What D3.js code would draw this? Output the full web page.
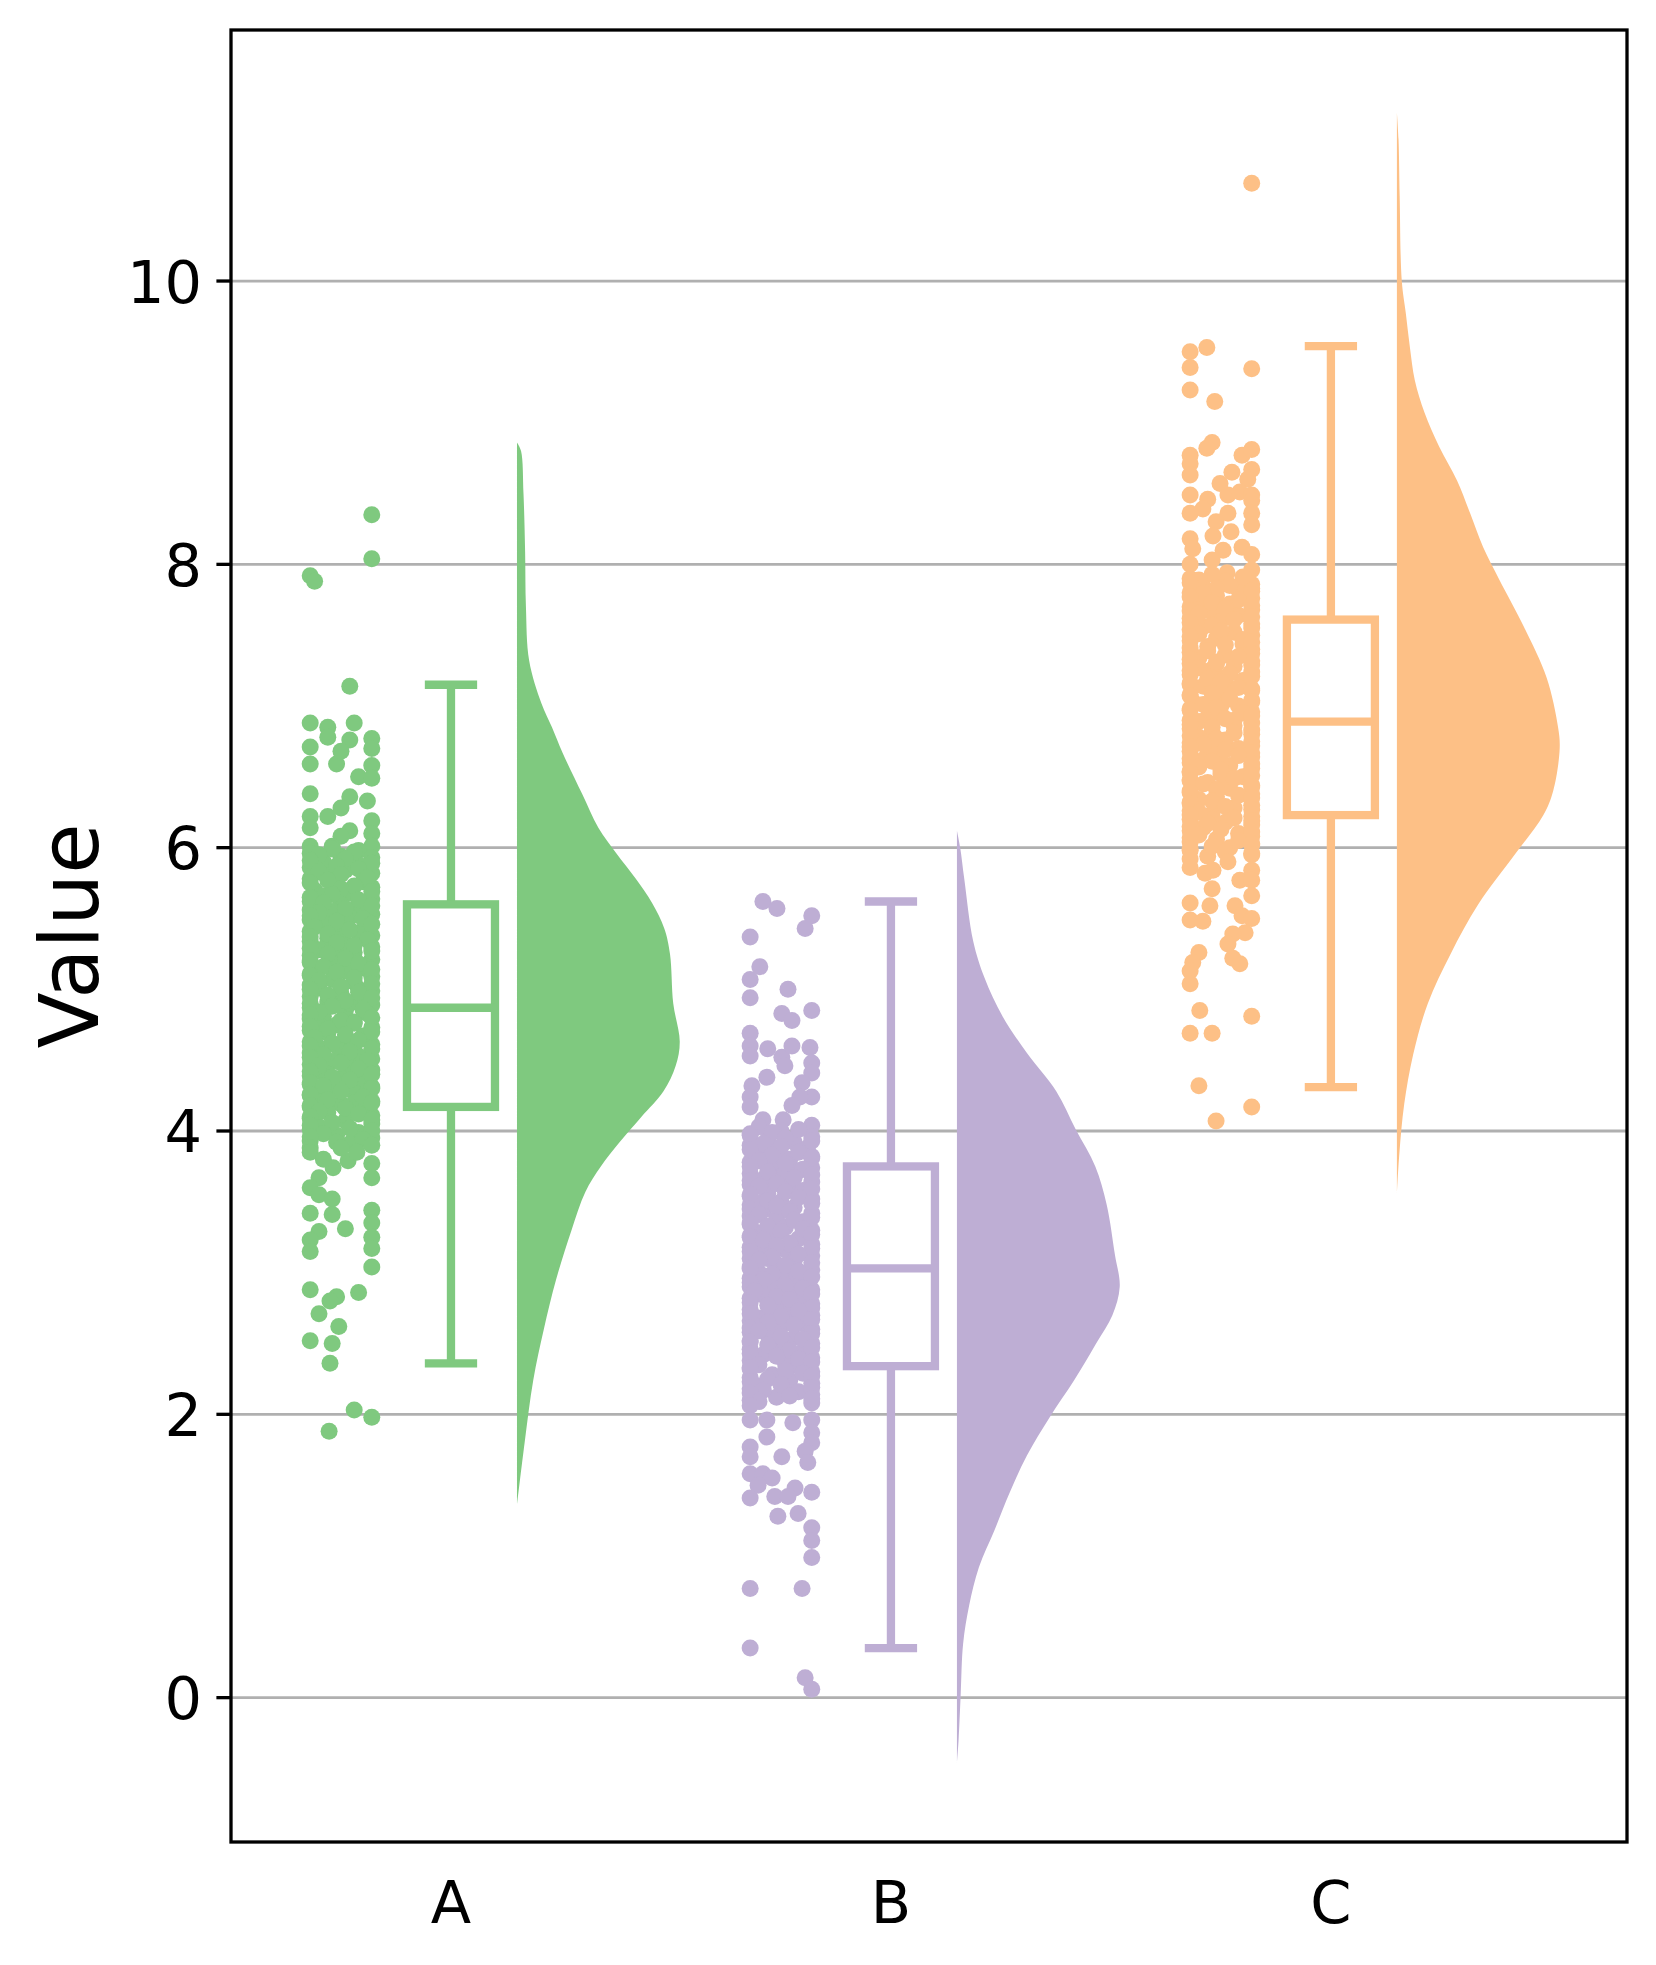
<!DOCTYPE html>
<html><head><meta charset="utf-8">
<script src="https://cdn.jsdelivr.net/npm/d3@7"></script>
<style>body{margin:0;background:#fff}</style>
</head><body><svg id="c" width="1656" height="1965"></svg>
<script>
const categories = ["A","B","C"];
const colors = ["#7fc97f","#beaed4","#fdc086"];
const yTicks = [0,2,4,6,8,10];
const yLabel = "Value";

// box statistics
const whiskerLow  = [2.36, 0.35, 4.31];
const q1          = [4.17, 2.34, 6.23];
const medians     = [4.87, 3.03, 6.89];
const q3          = [5.60, 3.75, 7.61];
const whiskerHigh = [7.15, 5.62, 9.54];

// violin density profiles [value, relative density]
const violinA = [[8.86,0],[8.8,.025],[8.5,.04],[8.09,.05],[7.7,.055],[7.32,.075],[7.02,.15],[6.85,.215],[6.67,.28],[6.38,.40],[6.14,.50],[5.96,.61],[5.78,.73],[5.61,.83],[5.43,.905],[5.25,.94],[4.90,.96],[4.63,1.0],[4.46,.975],[4.28,.90],[4.10,.765],[3.92,.63],[3.75,.515],[3.57,.42],[3.30,.335],[2.95,.24],[2.60,.165],[2.24,.10],[1.80,.047],[1.36,0]];
const violinB = [[6.12,0],[6.0,.02],[5.78,.045],[5.34,.10],[5.08,.17],[4.81,.28],[4.55,.43],[4.28,.61],[4.01,.73],[3.75,.85],[3.48,.92],[3.13,.97],[2.90,1.0],[2.70,.955],[2.50,.855],[2.24,.72],[1.98,.57],[1.71,.43],[1.45,.325],[1.18,.23],[0.92,.135],[0.65,.075],[0.38,.038],[0.02,.023],[-0.3,.01],[-0.46,0]];
const violinC = [[11.19,0],[11.0,.01],[10.6,.017],[10.0,.03],[9.77,.055],[9.53,.08],[9.30,.11],[9.07,.17],[8.83,.26],[8.59,.37],[8.36,.45],[8.12,.53],[7.89,.63],[7.56,.78],[7.20,.92],[6.85,.99],[6.70,1.0],[6.40,.96],[6.23,.90],[5.96,.73],[5.60,.50],[5.25,.33],[4.90,.19],[4.54,.10],[4.19,.045],[3.84,.015],[3.56,0]];

// points [value, horizontal jitter offset from category]
const pointsA = [
[8.35,-.18],[8.04,-.18],[7.92,-.32],[7.88,-.31],[7.14,-.23],[6.88,-.32],[6.85,-.28],[6.88,-.22],[6.77,-.18],[6.71,-.32],[6.78,-.28],[6.76,-.23],[6.70,-.18],[6.59,-.32],[6.59,-.26],[6.68,-.25],[6.58,-.18],[6.50,-.21],[6.49,-.18],[6.38,-.32],[6.36,-.23],[6.33,-.19],[6.22,-.28],[6.22,-.32],[6.28,-.25],[6.19,-.18],[6.14,-.32],[6.12,-.23],[6.10,-.18],[6.08,-.25],[6.01,-.32],[6.01,-.27],[6.01,-.18],[5.98,-.21],
[5.96,-.32],[5.94,-.25],[5.93,-.18],[5.90,-.29],[5.88,-.21],[5.86,-.32],[5.84,-.24],[5.82,-.18],[5.80,-.28],[5.78,-.32],[5.76,-.20],[5.74,-.26],
[5.72,-.18],[5.70,-.31],[5.68,-.23],[5.66,-.29],[5.64,-.18],[5.62,-.32],[5.60,-.25],[5.58,-.21],[5.56,-.32],[5.55,-.27],[5.53,-.18],[5.51,-.23],
[5.49,-.32],[5.47,-.29],[5.45,-.19],[5.43,-.25],[5.41,-.32],[5.40,-.21],[5.38,-.18],[5.36,-.28],[5.34,-.32],[5.32,-.24],[5.30,-.18],[5.28,-.30],
[5.26,-.22],[5.24,-.32],[5.23,-.26],[5.21,-.18],[5.19,-.32],[5.17,-.28],[5.15,-.20],[5.13,-.24],[5.11,-.32],[5.09,-.18],[5.07,-.27],[5.05,-.22],
[5.03,-.32],[5.01,-.30],[4.99,-.18],[4.97,-.25],[4.95,-.32],[4.93,-.21],[4.91,-.28],[4.89,-.18],[4.87,-.32],[4.85,-.24],[4.83,-.19],[4.81,-.29],
[4.79,-.32],[4.77,-.22],[4.75,-.26],[4.73,-.18],[4.71,-.32],[4.69,-.28],[4.67,-.20],[4.65,-.24],[4.63,-.32],[4.61,-.18],[4.59,-.30],[4.57,-.25],
[4.55,-.32],[4.53,-.21],[4.51,-.18],[4.49,-.27],[4.47,-.32],[4.45,-.23],[4.43,-.18],[4.41,-.29],[4.39,-.32],[4.37,-.25],[4.35,-.20],[4.33,-.32],
[4.31,-.18],[4.29,-.27],[4.27,-.22],[4.25,-.32],[4.23,-.30],[4.21,-.18],[4.19,-.25],[4.17,-.32],[4.15,-.21],[4.13,-.28],[4.11,-.18],[4.09,-.32],
[4.07,-.24],[4.05,-.18],[4.03,-.30],[4.01,-.32],[3.99,-.21],[3.97,-.26],[3.95,-.18],[3.93,-.32],[3.91,-.23],
[5.20,-.27],[4.90,-.23],[4.60,-.26],[4.40,-.28],[5.00,-.21],[4.75,-.30],[5.50,-.24],[4.20,-.22],[5.35,-.25],[4.50,-.24],
[5.99,-.27],[5.97,-.22],[5.95,-.30],[5.92,-.24],[5.91,-.32],[5.89,-.18],[5.87,-.26],[5.85,-.21],[5.83,-.30],[5.81,-.25],[5.79,-.19],[5.77,-.28],
[5.75,-.32],[5.73,-.22],[5.71,-.25],[5.69,-.18],[5.67,-.27],[5.65,-.32],[5.63,-.21],[5.61,-.29],[5.59,-.18],[5.57,-.24],[5.54,-.30],[5.52,-.32],
[5.50,-.20],[5.48,-.26],[5.46,-.18],[5.44,-.31],[5.42,-.23],[5.39,-.28],[5.37,-.32],[5.35,-.19],[5.33,-.26],[5.31,-.22],[5.29,-.32],[5.27,-.18],
[5.25,-.28],[5.22,-.24],[5.20,-.32],[5.18,-.21],[5.16,-.29],[5.14,-.18],[5.12,-.26],[5.10,-.32],[5.08,-.22],[5.06,-.30],[5.04,-.18],[5.02,-.25],
[5.00,-.32],[4.98,-.21],[4.96,-.28],[4.94,-.18],[4.92,-.24],[4.90,-.32],[4.88,-.27],[4.86,-.20],[4.84,-.30],[4.82,-.32],[4.80,-.18],[4.78,-.25],
[4.76,-.22],[4.74,-.32],[4.72,-.28],[4.70,-.18],[4.68,-.24],[4.66,-.31],[4.64,-.21],[4.62,-.27],[4.60,-.32],[4.58,-.18],[4.56,-.23],[4.54,-.29],
[4.52,-.32],[4.50,-.19],[4.48,-.25],[4.46,-.30],[4.44,-.21],[4.42,-.32],[4.40,-.18],[4.38,-.27],[4.36,-.23],[4.34,-.32],[4.32,-.29],[4.30,-.18],
[4.28,-.25],[4.26,-.32],[4.24,-.20],[4.22,-.28],[4.20,-.18],[4.18,-.32],[4.16,-.24],[4.14,-.30],[4.12,-.21],[4.10,-.32],[4.08,-.18],[4.06,-.27],
[4.04,-.32],[4.02,-.23],[4.00,-.18],[3.98,-.29],[3.96,-.32],[3.94,-.20],[3.92,-.26],[3.90,-.18],[3.88,-.32],
[3.85,-.32],[3.67,-.30],[3.60,-.32],[3.55,-.30],[3.52,-.27],[3.42,-.32],[3.41,-.27],[3.31,-.24],[3.29,-.30],[3.23,-.32],[3.15,-.32],[3.44,-.18],[3.35,-.18],[3.25,-.18],[3.17,-.18],[3.04,-.18],[2.86,-.21],[2.88,-.32],[2.83,-.26],[2.80,-.275],[2.71,-.30],[2.62,-.255],[2.52,-.32],[2.50,-.27],[2.36,-.275],[2.03,-.22],[1.98,-.18],[1.88,-.277],[3.77,-.18],[3.67,-.18],[3.79,-.234],[3.74,-.268],[3.85,-.214],[3.88,-.25],[3.80,-.29]
];
const pointsB = [
[5.62,-.291],[5.57,-.259],[5.52,-.18],[5.43,-.195],[5.37,-.32],[5.16,-.298],[5.07,-.32],[5.00,-.234],[4.94,-.32],[4.83,-.248],[4.78,-.225],[4.85,-.18],[4.69,-.32],[4.60,-.32],[4.53,-.32],[4.58,-.28],[4.52,-.248],[4.60,-.225],[4.59,-.184],[4.48,-.18],[4.46,-.241],[4.38,-.282],[4.32,-.316],[4.41,-.18],[4.34,-.202],[4.24,-.18],[4.24,-.207],[4.18,-.225],[4.24,-.32],[4.17,-.32],[4.08,-.291],[4.08,-.245],[4.04,-.18],
[4.00,-.25],[3.98,-.32],[3.96,-.18],[3.94,-.28],[3.92,-.22],[3.90,-.32],[3.88,-.19],[3.86,-.26],[3.84,-.30],[3.82,-.18],[3.80,-.23],[3.78,-.32],
[3.76,-.27],[3.74,-.18],[3.72,-.21],[3.70,-.32],[3.68,-.25],[3.66,-.29],[3.64,-.18],[3.62,-.32],[3.60,-.23],[3.58,-.20],[3.56,-.28],[3.54,-.32],
[3.52,-.18],[3.50,-.25],[3.48,-.32],[3.46,-.22],[3.44,-.29],[3.42,-.18],[3.40,-.32],[3.38,-.26],[3.36,-.20],[3.34,-.32],[3.32,-.24],[3.30,-.18],
[3.28,-.30],[3.26,-.32],[3.24,-.21],[3.22,-.27],[3.20,-.18],[3.18,-.32],[3.16,-.24],[3.14,-.29],[3.12,-.18],[3.10,-.32],[3.08,-.22],[3.06,-.26],
[3.04,-.32],[3.02,-.18],[3.00,-.30],[2.98,-.23],[2.96,-.32],[2.94,-.19],[2.92,-.27],[2.90,-.32],[2.88,-.18],[2.86,-.24],[2.84,-.29],[2.82,-.32],
[2.80,-.21],[2.78,-.18],[2.76,-.26],[2.74,-.32],[2.72,-.23],[2.70,-.18],[2.68,-.30],[2.66,-.32],[2.64,-.20],[2.62,-.25],[2.60,-.18],[2.58,-.32],
[2.56,-.28],[2.54,-.22],[2.52,-.32],[2.50,-.18],[2.48,-.26],[2.46,-.32],[2.44,-.20],[2.42,-.29],[2.40,-.18],[2.38,-.32],[2.36,-.24],[2.34,-.21],
[2.32,-.32],[2.30,-.18],[2.28,-.27],[2.26,-.32],[2.24,-.23],[2.22,-.18],[2.20,-.30],[2.18,-.32],[2.16,-.21],[2.14,-.18],[2.12,-.26],[2.10,-.32],[2.08,-.18],
[3.30,-.27],[3.00,-.25],[2.70,-.28],[3.50,-.29],[2.90,-.21],[3.20,-.23],[2.50,-.24],[3.70,-.24],[2.60,-.27],[3.10,-.28],
[4.03,-.30],[4.01,-.21],[3.99,-.27],[3.97,-.32],[3.95,-.24],[3.93,-.18],[3.91,-.29],[3.89,-.25],[3.87,-.32],[3.85,-.21],[3.83,-.27],[3.81,-.18],
[3.79,-.30],[3.77,-.24],[3.75,-.32],[3.73,-.20],[3.71,-.28],[3.69,-.18],[3.67,-.22],[3.65,-.32],[3.63,-.26],[3.61,-.30],[3.59,-.18],[3.57,-.24],
[3.55,-.32],[3.53,-.21],[3.51,-.28],[3.49,-.18],[3.47,-.26],[3.45,-.32],[3.43,-.23],[3.41,-.30],[3.39,-.18],[3.37,-.22],[3.35,-.32],[3.33,-.28],
[3.31,-.20],[3.29,-.25],[3.27,-.18],[3.25,-.32],[3.23,-.29],[3.21,-.23],[3.19,-.26],[3.17,-.18],[3.15,-.32],[3.13,-.21],[3.11,-.27],[3.09,-.30],
[3.07,-.18],[3.05,-.24],[3.03,-.32],[3.01,-.21],[2.99,-.27],[2.97,-.18],[2.95,-.29],[2.93,-.32],[2.91,-.24],[2.89,-.20],[2.87,-.31],[2.85,-.18],
[2.83,-.26],[2.81,-.23],[2.79,-.32],[2.77,-.28],[2.75,-.18],[2.73,-.21],[2.71,-.32],[2.69,-.25],[2.67,-.18],[2.65,-.28],[2.63,-.22],[2.61,-.32],
[2.59,-.30],[2.57,-.18],[2.55,-.25],[2.53,-.20],[2.51,-.32],[2.49,-.28],[2.47,-.18],[2.45,-.23],[2.43,-.32],[2.41,-.26],[2.39,-.21],[2.37,-.18],
[2.35,-.30],[2.33,-.32],[2.31,-.24],[2.29,-.20],[2.27,-.18],[2.25,-.28],[2.23,-.32],[2.21,-.25],[2.19,-.18],[2.17,-.29],[2.15,-.32],[2.13,-.23],[2.11,-.18],[2.09,-.30],[2.06,-.32],
[1.96,-.32],[1.96,-.282],[1.84,-.282],[1.77,-.32],[1.70,-.32],[1.94,-.223],[1.96,-.18],[1.87,-.18],[1.80,-.18],[1.74,-.195],[1.66,-.189],[1.70,-.248],[1.58,-.32],[1.58,-.291],[1.55,-.27],[1.50,-.302],[1.41,-.32],[1.42,-.264],[1.48,-.218],[1.42,-.234],[1.28,-.257],[1.30,-.211],[1.45,-.18],[1.20,-.18],[1.11,-.18],[0.99,-.18],[0.77,-.32],[0.77,-.202],[0.35,-.32],[0.14,-.195],[0.06,-.18]
];
const pointsC = [
[10.69,-.18],[9.50,-.32],[9.53,-.282],[9.39,-.32],[9.38,-.18],[9.23,-.32],[9.15,-.264],[8.86,-.27],[8.82,-.282],[8.77,-.32],[8.71,-.32],[8.63,-.32],[8.77,-.202],[8.81,-.18],[8.67,-.18],[8.60,-.189],[8.65,-.225],[8.57,-.252],[8.49,-.234],[8.51,-.207],[8.49,-.18],[8.45,-.18],[8.49,-.32],[8.46,-.28],[8.39,-.291],[8.36,-.32],[8.36,-.234],[8.30,-.261],[8.36,-.18],[8.28,-.18],[8.18,-.32],[8.11,-.314],[8.23,-.227],[8.20,-.268],[8.12,-.202],[8.10,-.245],[8.07,-.18],[8.00,-.32],[8.03,-.27],[7.94,-.236],[7.96,-.18],[7.83,-.18],
[7.90,-.32],[7.88,-.24],[7.86,-.18],[7.84,-.29],[7.82,-.21],[7.80,-.32],[7.78,-.26],[7.76,-.18],[7.74,-.30],[7.72,-.23],[7.70,-.32],[7.68,-.18],
[7.66,-.27],[7.64,-.21],[7.62,-.32],[7.60,-.25],[7.58,-.18],[7.56,-.29],[7.54,-.32],[7.52,-.22],[7.50,-.18],[7.48,-.26],[7.46,-.32],[7.44,-.20],
[7.42,-.28],[7.40,-.18],[7.38,-.32],[7.36,-.24],[7.34,-.30],[7.32,-.18],[7.30,-.32],[7.28,-.22],[7.26,-.27],[7.24,-.18],[7.22,-.32],[7.20,-.25],
[7.18,-.20],[7.16,-.32],[7.14,-.29],[7.12,-.18],[7.10,-.23],[7.08,-.32],[7.06,-.26],[7.04,-.18],[7.02,-.31],[7.00,-.21],[6.98,-.32],[6.96,-.18],
[6.94,-.25],[6.92,-.28],[6.90,-.32],[6.88,-.18],[6.86,-.22],[6.84,-.32],[6.82,-.27],[6.80,-.18],[6.78,-.30],[6.76,-.24],[6.74,-.32],[6.72,-.18],
[6.70,-.21],[6.68,-.32],[6.66,-.26],[6.64,-.18],[6.62,-.29],[6.60,-.32],[6.58,-.23],[6.56,-.18],[6.54,-.32],[6.52,-.25],[6.50,-.20],[6.48,-.32],
[6.46,-.28],[6.44,-.18],[6.42,-.23],[6.40,-.32],[6.38,-.18],[6.36,-.26],[6.34,-.30],[6.32,-.32],[6.30,-.18],[6.28,-.22],[6.26,-.32],[6.24,-.27],
[6.22,-.18],[6.20,-.32],[6.18,-.24],[6.16,-.18],[6.14,-.29],[6.12,-.32],[6.10,-.21],[6.08,-.18],[6.06,-.26],[6.04,-.32],[6.02,-.18],[6.00,-.23],[5.98,-.32],[5.96,-.18],[5.94,-.28],
[7.30,-.26],[7.00,-.25],[6.70,-.27],[6.45,-.24],[7.50,-.24],[6.90,-.22],[6.20,-.27],[7.70,-.27],[6.60,-.25],[7.15,-.24],
[7.93,-.27],[7.91,-.20],[7.89,-.30],[7.87,-.32],[7.85,-.23],[7.83,-.26],[7.81,-.18],[7.79,-.29],[7.77,-.32],[7.75,-.21],[7.73,-.27],[7.71,-.18],
[7.69,-.24],[7.67,-.32],[7.65,-.30],[7.63,-.18],[7.61,-.22],[7.59,-.32],[7.57,-.27],[7.55,-.18],[7.53,-.25],[7.51,-.30],[7.49,-.32],[7.47,-.20],
[7.45,-.18],[7.43,-.24],[7.41,-.32],[7.39,-.28],[7.37,-.18],[7.35,-.21],[7.33,-.32],[7.31,-.26],[7.29,-.18],[7.27,-.30],[7.25,-.32],[7.23,-.23],
[7.21,-.18],[7.19,-.28],[7.17,-.25],[7.15,-.32],[7.13,-.21],[7.11,-.18],[7.09,-.27],[7.07,-.32],[7.05,-.23],[7.03,-.18],[7.01,-.29],[6.99,-.26],
[6.97,-.32],[6.95,-.20],[6.93,-.18],[6.91,-.24],[6.89,-.30],[6.87,-.32],[6.85,-.27],[6.83,-.18],[6.81,-.22],[6.79,-.32],[6.77,-.26],[6.75,-.18],
[6.73,-.29],[6.71,-.32],[6.69,-.24],[6.67,-.18],[6.65,-.21],[6.63,-.32],[6.61,-.27],[6.59,-.18],[6.57,-.30],[6.55,-.25],[6.53,-.32],[6.51,-.18],
[6.49,-.22],[6.47,-.32],[6.45,-.29],[6.43,-.18],[6.41,-.26],[6.39,-.32],[6.37,-.21],[6.35,-.18],[6.33,-.27],[6.31,-.32],[6.29,-.24],[6.27,-.18],
[6.25,-.30],[6.23,-.32],[6.21,-.22],[6.19,-.18],[6.17,-.28],[6.15,-.32],[6.13,-.25],[6.11,-.18],[6.09,-.30],[6.07,-.32],[6.05,-.21],[6.03,-.18],[6.01,-.27],[5.99,-.32],[5.97,-.24],[5.95,-.18],[5.92,-.32],
[5.86,-.32],[5.82,-.286],[5.84,-.268],[5.90,-.234],[5.77,-.207],[5.84,-.18],[5.77,-.18],[5.71,-.27],[5.66,-.18],[5.61,-.32],[5.59,-.275],[5.59,-.218],[5.52,-.202],[5.49,-.32],[5.48,-.291],[5.50,-.18],[5.40,-.195],[5.39,-.223],[5.32,-.234],[5.26,-.30],[5.19,-.314],[5.13,-.32],[5.22,-.223],[5.18,-.207],[5.04,-.32],[4.85,-.298],[4.81,-.18],[4.69,-.32],[4.69,-.27],[4.32,-.30],[4.17,-.18],[4.07,-.261]
];

const pointsAll = [pointsA, pointsB, pointsC];
const violinsAll = [violinA, violinB, violinC];

// ---------- layout ----------
const L = 231, R = 1627, T = 30, B = 1842;
const x = d3.scaleLinear().domain([-0.5, 2.673]).range([L, R]);
const y = d3.scaleLinear().domain([-1.019, 11.772]).range([B, T]);
const LW = 8.3;
const boxW = 0.2, capW = 0.1, violinOff = 0.15, violinW = 0.37, ptR = 8.5;

const svg = d3.select("#c");
svg.append("rect").attr("width",1656).attr("height",1965).attr("fill","#fff");
svg.append("defs").append("clipPath").attr("id","clip")
  .append("rect").attr("x",L).attr("y",T).attr("width",R-L).attr("height",B-T);

// grid
svg.append("g").selectAll("line").data(yTicks).join("line")
  .attr("x1",L).attr("x2",R).attr("y1",d=>y(d)).attr("y2",d=>y(d))
  .attr("stroke","#b0b0b0").attr("stroke-width",2.8);

const plot = svg.append("g").attr("clip-path","url(#clip)");

// violins
violinsAll.forEach((prof,i)=>{
  const area = d3.area()
    .y(d=>y(d[0]))
    .x0(()=>x(i+violinOff))
    .x1(d=>x(i+violinOff+violinW*d[1]))
    .curve(d3.curveCatmullRom.alpha(0.5));
  plot.append("path").attr("d",area(prof)).attr("fill",colors[i]);
});

// points
pointsAll.forEach((pts,i)=>{
  plot.append("g").selectAll("circle").data(pts).join("circle")
    .attr("cx",d=>x(i+d[1])).attr("cy",d=>y(d[0])).attr("r",ptR)
    .attr("fill",colors[i]);
});

// boxes
categories.forEach((c,i)=>{
  const g = plot.append("g").attr("stroke",colors[i]).attr("stroke-width",LW).attr("fill","none");
  g.append("line").attr("x1",x(i)).attr("x2",x(i)).attr("y1",y(q3[i])).attr("y2",y(whiskerHigh[i]));
  g.append("line").attr("x1",x(i)).attr("x2",x(i)).attr("y1",y(q1[i])).attr("y2",y(whiskerLow[i]));
  [whiskerHigh[i], whiskerLow[i]].forEach(v=>{
    g.append("line").attr("x1",x(i-capW/2)).attr("x2",x(i+capW/2)).attr("y1",y(v)).attr("y2",y(v))
      .attr("stroke-linecap","square");
  });
  g.append("rect").attr("x",x(i-boxW/2)).attr("width",x(i+boxW/2)-x(i-boxW/2))
    .attr("y",y(q3[i])).attr("height",y(q1[i])-y(q3[i])).attr("fill","#fff");
  g.append("line").attr("x1",x(i-boxW/2)).attr("x2",x(i+boxW/2)).attr("y1",y(medians[i])).attr("y2",y(medians[i]));
});

// frame
svg.append("rect").attr("x",L).attr("y",T).attr("width",R-L).attr("height",B-T)
  .attr("fill","none").attr("stroke","#000").attr("stroke-width",3.3);

// y ticks
const yt = svg.append("g");
yTicks.forEach(t=>{
  yt.append("line").attr("x1",L-14.6).attr("x2",L).attr("y1",y(t)).attr("y2",y(t))
    .attr("stroke","#000").attr("stroke-width",3.3);
  yt.append("text").attr("x",L-29).attr("y",y(t)+21.5).attr("text-anchor","end")
    .attr("font-family","DejaVu Sans").attr("font-size",59).text(t);
});
// x labels (no tick marks in reference)
categories.forEach((c,i)=>{
  svg.append("text").attr("x",x(i)).attr("y",1923).attr("text-anchor","middle")
    .attr("font-family","DejaVu Sans").attr("font-size",59).text(c);
});
// y label
svg.append("text").attr("transform",`translate(98,${(T+B)/2}) rotate(-90)`)
  .attr("text-anchor","middle").attr("font-family","DejaVu Sans").attr("font-size",82).text(yLabel);
</script></body></html>
